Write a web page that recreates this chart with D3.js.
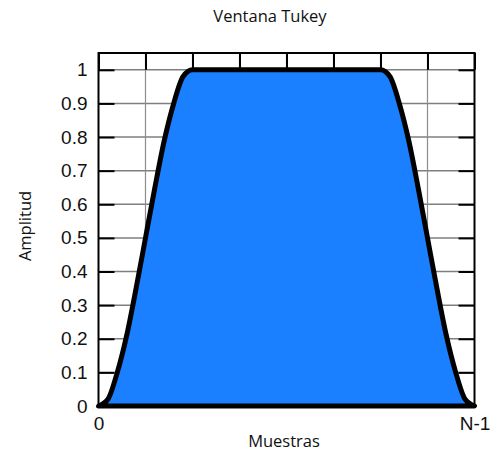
<!DOCTYPE html>
<html>
<head>
<meta charset="utf-8">
<script src="https://cdn.jsdelivr.net/npm/d3@7"></script>
<style>
  html, body { margin: 0; padding: 0; background: #ffffff; }
  svg { display: block; }
</style>
</head>
<body>
<div id="chart"></div>
<script>
// Tukey window: normalised sample position (0 .. N-1) and amplitude
const muestras = [
  0, 0.025, 0.05, 0.075, 0.1, 0.125, 0.15, 0.175, 0.2, 0.225, 0.25,
  0.75, 0.775, 0.8, 0.825, 0.85, 0.875, 0.9, 0.925, 0.95, 0.975, 1
];
const amplitud = [
  0, 0.02, 0.10, 0.21, 0.35, 0.50, 0.65, 0.79, 0.90, 0.98, 1,
  1, 0.98, 0.90, 0.79, 0.65, 0.50, 0.35, 0.21, 0.10, 0.02, 0
];
const yTicks = [0, 0.1, 0.2, 0.3, 0.4, 0.5, 0.6, 0.7, 0.8, 0.9, 1];
const xGrid = [0, 0.125, 0.25, 0.375, 0.5, 0.625, 0.75, 0.875, 1];
const xTicks = [0, 1];
const xTickLabels = ["0", "N-1"];
const titulo = "Ventana Tukey";
const etiquetaX = "Muestras";
const etiquetaY = "Amplitud";

const W = 490, H = 452;
const mLeft = 98.5, mRight = 474.5, mTop = 53, mBottom = 406;

const svg = d3.select("#chart").append("svg")
  .attr("width", W).attr("height", H);

const x = d3.scaleLinear().domain([0, 1]).range([mLeft, mRight]);
const y = d3.scaleLinear().domain([0, 1.05]).range([mBottom, mTop]);

const data = muestras.map((m, i) => ({ m, a: amplitud[i] }));

// grey grid
const grid = svg.append("g");
grid.selectAll("line.h").data(yTicks.slice(1)).join("line")
  .attr("x1", mLeft).attr("x2", mRight)
  .attr("y1", d => y(d)).attr("y2", d => y(d))
  .attr("stroke", "#7f7f7f").attr("stroke-width", 1.5);
grid.selectAll("line.v").data(xGrid.slice(1, -1)).join("line")
  .attr("x1", d => x(d)).attr("x2", d => x(d))
  .attr("y1", mTop).attr("y2", mBottom)
  .attr("stroke", "#8c8c8c").attr("stroke-width", 1.2);

// black inward ticks: left, right, top
const tickLen = 16;
const yAxisL = svg.append("g")
  .attr("transform", `translate(${mLeft},0)`)
  .call(d3.axisLeft(y).tickValues(yTicks).tickFormat(d3.format("")).tickSizeInner(-tickLen).tickSizeOuter(0).tickPadding(11));
yAxisL.select(".domain").remove();
yAxisL.selectAll(".tick line").attr("stroke", "#000").attr("stroke-width", 2);
yAxisL.selectAll(".tick text")
  .attr("font-family", "'Liberation Sans', Arial, sans-serif")
  .attr("font-size", 19).attr("fill", "#111");

const yAxisR = svg.append("g")
  .attr("transform", `translate(${mRight},0)`)
  .call(d3.axisRight(y).tickValues(yTicks).tickFormat("").tickSizeInner(-tickLen).tickSizeOuter(0));
yAxisR.select(".domain").remove();
yAxisR.selectAll(".tick line").attr("stroke", "#000").attr("stroke-width", 2);

const xAxisT = svg.append("g")
  .attr("transform", `translate(0,${mTop})`)
  .call(d3.axisTop(x).tickValues(xGrid).tickFormat("").tickSizeInner(-(y(1) - mTop)).tickSizeOuter(0));
xAxisT.select(".domain").remove();
xAxisT.selectAll(".tick line").attr("stroke", "#000").attr("stroke-width", 2);

// bottom axis labels
const xAxisB = svg.append("g")
  .attr("transform", `translate(0,${mBottom})`)
  .call(d3.axisBottom(x).tickValues(xTicks).tickFormat((d, i) => xTickLabels[i]).tickSize(0).tickPadding(11));
xAxisB.select(".domain").remove();
xAxisB.selectAll(".tick text")
  .attr("font-family", "'Liberation Sans', Arial, sans-serif")
  .attr("font-size", 19).attr("fill", "#111");

// filled window
const area = d3.area()
  .x(d => x(d.m)).y0(y(0)).y1(d => y(d.a))
  .curve(d3.curveMonotoneX);
svg.append("path").datum(data)
  .attr("d", area)
  .attr("fill", "#1a80ff");

// outline of window including baseline
const line = d3.line().x(d => x(d.m)).y(d => y(d.a)).curve(d3.curveMonotoneX);
svg.append("path").datum(data)
  .attr("d", line(data) + "Z")
  .attr("fill", "none")
  .attr("stroke", "#000")
  .attr("stroke-width", 5)
  .attr("stroke-linejoin", "round");

// frame
svg.append("rect")
  .attr("x", mLeft).attr("y", mTop)
  .attr("width", mRight - mLeft).attr("height", mBottom - mTop)
  .attr("fill", "none").attr("stroke", "#000").attr("stroke-width", 2);

// titles
const txtFont = "'Open Sans', 'Noto Sans', sans-serif";
svg.append("text")
  .attr("x", 270).attr("y", 22)
  .attr("text-anchor", "middle")
  .attr("font-family", txtFont).attr("font-size", 16.5).attr("fill", "#111")
  .text(titulo);
svg.append("text")
  .attr("x", 284).attr("y", 447)
  .attr("text-anchor", "middle")
  .attr("font-family", txtFont).attr("font-size", 16.5).attr("fill", "#111")
  .text(etiquetaX);
svg.append("text")
  .attr("transform", "translate(31,226) rotate(-90)")
  .attr("text-anchor", "middle")
  .attr("font-family", txtFont).attr("font-size", 16.5).attr("fill", "#111")
  .text(etiquetaY);
</script>
</body>
</html>
